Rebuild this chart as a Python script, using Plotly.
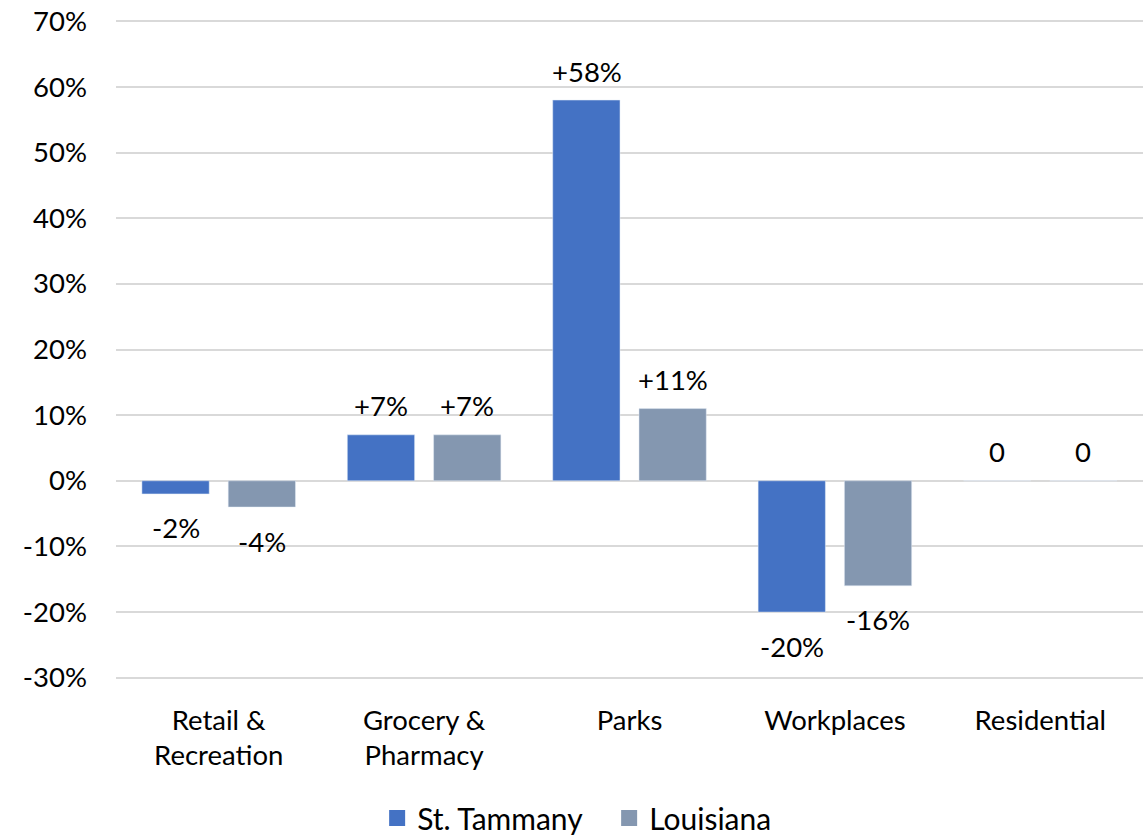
import plotly.graph_objects as go

categories = ["Retail &<br>Recreation", "Grocery &<br>Pharmacy", "Parks", "Workplaces", "Residential"]
st_tammany = [-2, 7, 58, -20, 0]
louisiana = [-4, 7, 11, -16, 0]
st_labels = ["-2%", "+7%", "+58%", "-20%", "0"]
la_labels = ["-4%", "+7%", "+11%", "-16%", "0"]
tick_vals = [-30, -20, -10, 0, 10, 20, 30, 40, 50, 60, 70]
tick_text = ["-30%", "-20%", "-10%", "0%", "10%", "20%", "30%", "40%", "50%", "60%", "70%"]
series_names = ["St. Tammany", "Louisiana"]

FONT = "Lato"
FS = 27.5
BLUE = "#4472C4"
GRAY = "#8497B0"
colors = [BLUE, GRAY]

fig = go.Figure()
for name, vals, col in zip(series_names, [st_tammany, louisiana], colors):
    fig.add_trace(go.Bar(x=categories, y=vals, name=name, marker_color=col, showlegend=False))
# legend entries with larger square swatches
for name, col in zip(series_names, colors):
    fig.add_trace(go.Scatter(x=[None], y=[None], mode="markers", name=name,
                             marker=dict(symbol="square", size=18, color=col)))

annotations = []
for series, labels, shift in ((st_tammany, st_labels, -43), (louisiana, la_labels, 43)):
    for cat, v, lab in zip(categories, series, labels):
        annotations.append(dict(
            x=cat, y=v, xref="x", yref="y", text=lab, showarrow=False,
            xshift=shift, yshift=(-34 if v < 0 else 29),
            font=dict(family=FONT, size=FS, color="#000000"),
        ))

fig.update_layout(
    width=1145, height=838,
    margin=dict(l=116, r=2, t=18, b=157, autoexpand=False),
    paper_bgcolor="white", plot_bgcolor="white",
    barmode="group", bargap=0.16, bargroupgap=0.22,
    font=dict(family=FONT, size=FS, color="#000000"),
    showlegend=True,
    legend=dict(orientation="h", x=0.532, xanchor="center", xref="container",
                y=0.024, yanchor="middle", yref="container",
                font=dict(size=30), itemwidth=30, tracegroupgap=0,
                entrywidth=187, entrywidthmode="pixels"),
    annotations=annotations,
    yaxis=dict(range=[-30.5, 70.5], tickvals=tick_vals, ticktext=tick_text,
               showgrid=True, gridcolor="#D9D9D9", gridwidth=1.5,
               zeroline=True, zerolinecolor="#D9D9D9", zerolinewidth=1.5,
               showline=False, ticklabelstandoff=28),
    xaxis=dict(showline=False, showgrid=False, ticklabelstandoff=20),
)

fig.write_html("out.html", config={"displayModeBar": False},
               post_script="document.body.style.margin='0';")
